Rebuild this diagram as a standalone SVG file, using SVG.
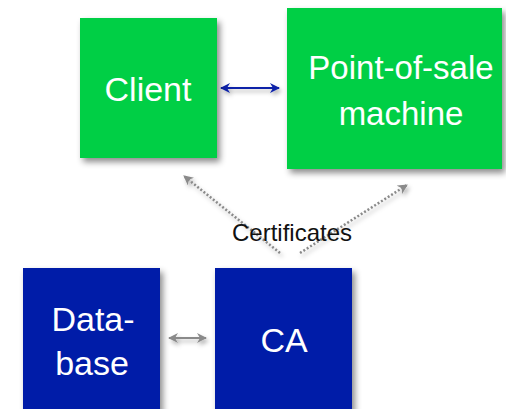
<svg xmlns="http://www.w3.org/2000/svg" width="506" height="409" viewBox="0 0 506 409">
<defs>
<filter id="sh" x="-20%" y="-20%" width="150%" height="150%">
<feDropShadow dx="3" dy="4" stdDeviation="3" flood-color="#000" flood-opacity="0.45"/>
</filter>
<filter id="lsh" filterUnits="userSpaceOnUse" x="0" y="0" width="506" height="409">
<feDropShadow dx="2" dy="3" stdDeviation="2" flood-color="#000" flood-opacity="0.3"/>
</filter>
<marker id="ab" viewBox="0 0 10 10" refX="9" refY="5" markerWidth="10" markerHeight="10" markerUnits="userSpaceOnUse" orient="auto-start-reverse">
<path d="M0,0 L10,5 L0,10 L3,5 Z" fill="#0b22a8"/>
</marker>
<marker id="ag" viewBox="0 0 10 10" refX="9" refY="5" markerWidth="10" markerHeight="10" markerUnits="userSpaceOnUse" orient="auto-start-reverse">
<path d="M0,0 L10,5 L0,10 L3,5 Z" fill="#8a8a8a"/>
</marker>
</defs>
<style>
.g{fill:#00cf45;filter:url(#sh)}
.b{fill:#041ca8;filter:url(#sh)}
.t{font-family:"Liberation Sans",Arial,sans-serif;fill:#fff;text-anchor:middle}
.c{font-family:"Liberation Sans",Arial,sans-serif;fill:#111;text-anchor:middle;font-size:24px}
</style>
<rect width="506" height="409" fill="#fff"/>
<g id="connectors" filter="url(#lsh)">
<line x1="221" y1="88" x2="279" y2="88" stroke="#0b22a8" stroke-width="2" marker-start="url(#ab)" marker-end="url(#ab)"/>
<line x1="169" y1="338" x2="206" y2="338" stroke="#8a8a8a" stroke-width="2" marker-start="url(#ag)" marker-end="url(#ag)"/>
<line x1="280" y1="253" x2="184" y2="176" stroke="#8a8a8a" stroke-width="2.5" stroke-dasharray="2 2" marker-end="url(#ag)"/>
<line x1="300" y1="253" x2="407" y2="185" stroke="#8a8a8a" stroke-width="2.5" stroke-dasharray="2 2" marker-end="url(#ag)"/>
</g>
<text class="c" x="292" y="241">Certificates</text>
<g id="client">
<rect class="g" x="80" y="18" width="137" height="140"/>
<text class="t" x="148" y="101" font-size="34">Client</text>
</g>
<g id="pos">
<rect class="g" x="287" y="8" width="215" height="161"/>
<text class="t" x="401" y="79" font-size="33">Point-of-sale</text>
<text class="t" x="401" y="125" font-size="33">machine</text>
</g>
<g id="database">
<rect class="b" x="23" y="268" width="137" height="150"/>
<text class="t" x="93" y="331" font-size="34">Data-</text>
<text class="t" x="92" y="375" font-size="34">base</text>
</g>
<g id="ca">
<rect class="b" x="215" y="268" width="137" height="150"/>
<text class="t" x="284" y="352" font-size="34">CA</text>
</g>
</svg>
